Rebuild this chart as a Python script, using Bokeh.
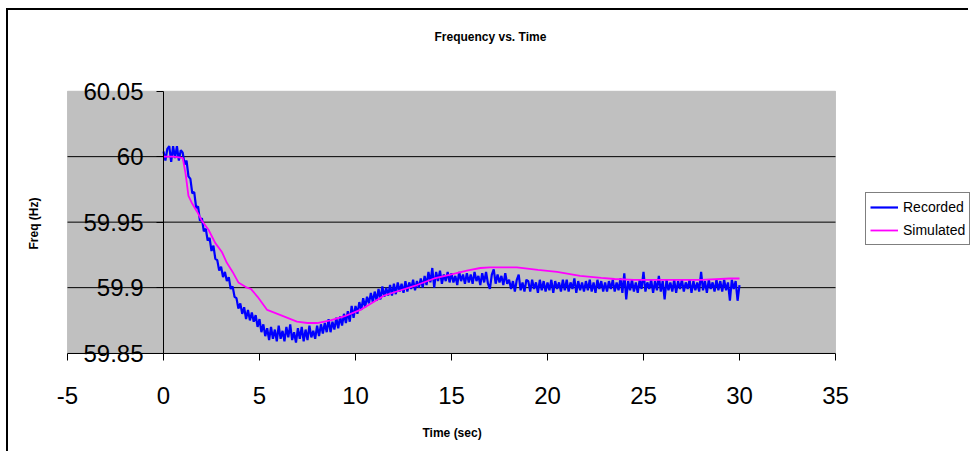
from bokeh.plotting import figure
from bokeh.models import Range1d, FixedTicker, Legend, LegendItem, BoxAnnotation, Title
from bokeh.embed import file_html
from bokeh.resources import INLINE

# ---------------- data ----------------
x_ticks = [-5, 0, 5, 10, 15, 20, 25, 30, 35]
x_tick_labels = ["-5", "0", "5", "10", "15", "20", "25", "30", "35"]
y_ticks = [59.85, 59.9, 59.95, 60.0, 60.05]
y_tick_labels = ["59.85", "59.9", "59.95", "60", "60.05"]

# Recorded frequency, one sample every 0.1 s from t = 0 to 30 s
rec_dt = 0.1
rec_f = [
    60.004, 59.997, 60.006, 60.008, 59.996, 60.008, 59.999, 60.008, 59.997, 60.005,
    60.003, 59.994, 59.997, 59.985, 59.983, 59.972, 59.973, 59.961, 59.962, 59.951,
    59.953, 59.943, 59.945, 59.936, 59.938, 59.928, 59.932, 59.922, 59.921, 59.913,
    59.916, 59.908, 59.912, 59.905, 59.908, 59.899, 59.901, 59.893, 59.892, 59.884,
    59.888, 59.880, 59.885, 59.876, 59.883, 59.875, 59.881, 59.874, 59.879, 59.870,
    59.876, 59.866, 59.872, 59.863, 59.869, 59.860, 59.870, 59.861, 59.868, 59.859,
    59.871, 59.861, 59.867, 59.859, 59.870, 59.862, 59.872, 59.860, 59.866, 59.858,
    59.869, 59.861, 59.870, 59.859, 59.868, 59.860, 59.871, 59.862, 59.867, 59.861,
    59.871, 59.863, 59.872, 59.865, 59.873, 59.866, 59.876, 59.866, 59.874, 59.868,
    59.877, 59.869, 59.878, 59.871, 59.880, 59.873, 59.882, 59.874, 59.886, 59.877,
    59.886, 59.880, 59.889, 59.883, 59.892, 59.885, 59.893, 59.888, 59.896, 59.889,
    59.897, 59.890, 59.899, 59.891, 59.901, 59.893, 59.900, 59.894, 59.902, 59.894,
    59.903, 59.895, 59.904, 59.897, 59.903, 59.896, 59.905, 59.897, 59.904, 59.899,
    59.906, 59.898, 59.905, 59.900, 59.907, 59.900, 59.909, 59.902, 59.912, 59.904,
    59.915, 59.900, 59.912, 59.905, 59.913, 59.903, 59.910, 59.905, 59.912, 59.904,
    59.911, 59.904, 59.909, 59.902, 59.912, 59.905, 59.910, 59.903, 59.911, 59.904,
    59.910, 59.903, 59.912, 59.905, 59.909, 59.902, 59.911, 59.904, 59.912, 59.903,
    59.899, 59.910, 59.914, 59.903, 59.910, 59.904, 59.909, 59.902, 59.911, 59.903,
    59.906, 59.899, 59.905, 59.897, 59.906, 59.910, 59.898, 59.904, 59.897, 59.906,
    59.905, 59.897, 59.906, 59.899, 59.904, 59.896, 59.906, 59.898, 59.905, 59.897,
    59.904, 59.898, 59.906, 59.896, 59.905, 59.899, 59.904, 59.897, 59.906, 59.898,
    59.906, 59.897, 59.904, 59.899, 59.907, 59.896, 59.905, 59.898, 59.904, 59.897,
    59.905, 59.898, 59.906, 59.897, 59.904, 59.896, 59.906, 59.899, 59.905, 59.897,
    59.904, 59.897, 59.905, 59.899, 59.906, 59.897, 59.904, 59.898, 59.907, 59.896,
    59.911, 59.891, 59.905, 59.898, 59.906, 59.897, 59.904, 59.896, 59.906, 59.899,
    59.912, 59.897, 59.904, 59.899, 59.906, 59.896, 59.905, 59.898, 59.909, 59.897,
    59.905, 59.891, 59.906, 59.898, 59.904, 59.897, 59.906, 59.896, 59.905, 59.899,
    59.906, 59.897, 59.904, 59.899, 59.906, 59.896, 59.905, 59.898, 59.904, 59.897,
    59.912, 59.898, 59.905, 59.896, 59.906, 59.899, 59.904, 59.897, 59.906, 59.898,
    59.905, 59.897, 59.906, 59.898, 59.904, 59.890, 59.906, 59.899, 59.905, 59.890,
    59.902,
]
rec_t = [round(i * rec_dt, 1) for i in range(len(rec_f))]

# Simulated frequency
sim_t = [0, 0.5, 1.0, 1.15, 1.3, 1.5, 1.75, 2.0, 2.35, 2.7, 3.05, 3.3, 3.6, 3.9,
         4.35, 4.55, 4.9, 5.4, 6.1, 6.95, 7.5, 8.0, 8.7, 9.4, 10.25, 11.5, 12.35,
         13.2, 14.1, 14.95, 15.8, 16.5, 17.0, 18.4, 19.5, 20.5, 21.7, 22.8, 23.5,
         24.5, 26.0, 28.0, 29.5, 30.0]
sim_f = [60.0, 60.0, 59.999, 59.987, 59.970, 59.964, 59.958, 59.951, 59.944,
         59.934, 59.927, 59.919, 59.912, 59.904, 59.900, 59.899, 59.893, 59.883,
         59.879, 59.874, 59.873, 59.873, 59.875, 59.878, 59.883, 59.894, 59.898,
         59.902, 59.907, 59.910, 59.913, 59.915, 59.9155, 59.9155, 59.9135,
         59.912, 59.909, 59.9074, 59.9066, 59.906, 59.906, 59.906, 59.907, 59.907]

FONT = "Liberation Sans"

# ---------------- layout (canvas pixels) ----------------
W, H = 962, 443
LEFT_PANEL, TOP_PANEL, BOTTOM_PANEL = 44, 48, 42
FRAME_L, FRAME_R = LEFT_PANEL, W
FRAME_T, FRAME_B = TOP_PANEL, H - BOTTOM_PANEL
AREA_L, AREA_R, AREA_T, AREA_B = 59, 827, 79, 344     # grey plot area inside the frame

x0, x1 = x_ticks[0], x_ticks[-1]
y0, y1 = y_ticks[0], y_ticks[-1]
xs = (x1 - x0) / (AREA_R - AREA_L)
ys = (y1 - y0) / (AREA_B - AREA_T)
x_range = Range1d(x0 - (AREA_L - FRAME_L) * xs, x1 + (FRAME_R - AREA_R) * xs)
y_range = Range1d(y0 - (FRAME_B - AREA_B) * ys, y1 + (AREA_T - FRAME_T) * ys)

p = figure(width=W, height=H, output_backend="svg", toolbar_location=None,
           x_range=x_range, y_range=y_range,
           min_border_left=LEFT_PANEL, min_border_right=0,
           min_border_top=TOP_PANEL, min_border_bottom=BOTTOM_PANEL)
p.styles = {"margin-left": "6px", "margin-top": "8px",
            "border-left": "2px solid black", "border-top": "2px solid black"}

p.background_fill_color = "white"
p.border_fill_color = "white"
p.outline_line_color = None
p.xgrid.visible = False
p.ygrid.visible = False

# grey plot area
p.add_layout(BoxAnnotation(left=x0, right=x1, bottom=y0, top=y1,
                           fill_color="#C0C0C0", fill_alpha=1,
                           line_color="#808080", line_width=1, level="underlay"))

# horizontal gridlines across the plot area
grid_y = y_ticks[1:-1]
p.segment(x0=[x0] * len(grid_y), x1=[x1] * len(grid_y), y0=grid_y, y1=grid_y,
          line_color="black", line_width=1)

# title
p.title.text = "Frequency vs. Time"
p.title.text_font = FONT
p.title.text_font_size = "12px"
p.title.text_font_style = "bold"
p.title.text_color = "black"
p.title.align = "left"
p.title.offset = 382
p.title.standoff = TOP_PANEL - 14

# x axis crossing at the bottom of the plot area
xa = p.xaxis[0]
xa.fixed_location = y0
xa.bounds = (x0, x1)
xa.ticker = FixedTicker(ticks=x_ticks)
xa.major_label_overrides = dict(zip(x_ticks, x_tick_labels))
xa.major_label_text_font = FONT
xa.major_label_text_font_size = "24px"
xa.major_label_text_color = "black"
xa.major_label_standoff = 27
xa.major_tick_out = 7
xa.major_tick_in = 0
xa.minor_tick_out = 0
xa.minor_tick_in = 0
xa.axis_line_color = "black"
xa.major_tick_line_color = "black"

# y axis crossing at x = 0
ya = p.yaxis[0]
ya.fixed_location = 0
ya.bounds = (y0, y1)
ya.ticker = FixedTicker(ticks=y_ticks)
ya.major_label_overrides = dict(zip(y_ticks, y_tick_labels))
ya.major_label_text_font = FONT
ya.major_label_text_font_size = "24px"
ya.major_label_text_color = "black"
ya.major_label_standoff = 13
ya.major_tick_out = 7
ya.major_tick_in = 0
ya.minor_tick_out = 0
ya.minor_tick_in = 0
ya.axis_line_color = "black"
ya.major_tick_line_color = "black"

# axis titles
p.add_layout(Title(text="Time (sec)", align="left", offset=370, standoff=28,
                   text_font=FONT, text_font_size="12px", text_font_style="bold",
                   text_color="black"), "below")
p.add_layout(Title(text="Freq (Hz)", align="left", offset=160, standoff=24,
                   text_font=FONT, text_font_size="12px", text_font_style="bold",
                   text_color="black"), "left")

r_rec = p.line(rec_t, rec_f, line_color="#0000FF", line_width=2.2)
r_sim = p.line(sim_t, sim_f, line_color="#FF00FF", line_width=1.8)

legend = Legend(items=[LegendItem(label="Recorded", renderers=[r_rec]),
                       LegendItem(label="Simulated", renderers=[r_sim])],
                location=(857 - FRAME_L, FRAME_B - 237),
                orientation="vertical",
                label_text_font=FONT, label_text_font_size="14px",
                label_text_color="black",
                glyph_width=28, glyph_height=20, label_height=20,
                label_standoff=5, spacing=3, padding=4, margin=0,
                border_line_color="black", border_line_width=1,
                background_fill_color="white", background_fill_alpha=1)
p.add_layout(legend)

open("out.html", "w").write(file_html(p, INLINE))
